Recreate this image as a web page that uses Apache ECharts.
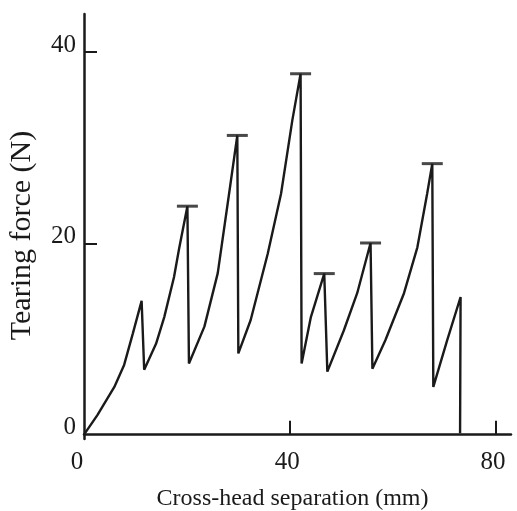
<!DOCTYPE html>
<html>
<head>
<meta charset="utf-8">
<script src="https://cdn.jsdelivr.net/npm/echarts@6/dist/echarts.min.js"></script>
<style>
html,body{margin:0;padding:0;background:#fff;}
#chart{width:517px;height:511px;}
</style>
</head>
<body>
<div id="chart"></div>
<script>
// Curve: cross-head separation (mm) vs tearing force (N)
const separation = [0, 2.6, 5.9, 7.8, 9.5, 11.2,
  11.7, 14.0, 15.6, 17.5, 18.5, 20.1,
  20.4, 23.4, 26.0, 28.2, 29.8,
  30.0, 32.4, 35.7, 38.3, 40.5, 42.1,
  42.3, 44.1, 46.7,
  47.3, 50.5, 53.1, 55.7,
  56.06, 58.6, 62.2, 64.8, 66.7, 67.7,
  67.9, 70.6, 73.2,
  73.1];
const force = [0, 2.05, 5.0, 7.3, 10.6, 14.0,
  6.8, 9.5, 12.3, 16.5, 19.5, 23.9,
  7.45, 11.3, 16.9, 25.2, 31.3,
  8.5, 12.0, 18.9, 25.2, 32.9, 37.75,
  7.45, 12.3, 16.85,
  6.6, 10.9, 14.8, 20.05,
  6.9, 9.9, 14.8, 19.6, 25.2, 28.35,
  5.0, 9.9, 14.4,
  0.15];
// Peaks marked with a horizontal bar
const capSeparation = [20.1, 29.8, 42.1, 46.7, 55.7, 67.7];
const capForce = [23.9, 31.3, 37.75, 16.85, 20.05, 28.35];

const xLabels = [0, 40, 80];
const xTicks = [40, 80];
const yLabels = [0, 20, 40];
const yTicks = [20, 40];

const ink = '#1a1a1a';
const font = 'Liberation Serif';

const chart = echarts.init(document.getElementById('chart'), null, {renderer: 'canvas'});
chart.setOption({
  backgroundColor: '#ffffff',
  animation: false,
  grid: {left: 84, right: 6, top: 14, bottom: 72, containLabel: false, outerBoundsMode: 'none'},
  xAxis: {
    type: 'value', min: 0, max: 83,
    name: 'Cross-head separation (mm)', nameLocation: 'middle', nameGap: 48,
    nameTextStyle: {fontFamily: font, fontSize: 24, color: ink, padding: [0, 10, 0, 0]},
    axisLine: {lineStyle: {color: ink, width: 2.5}},
    axisTick: {show: true, inside: true, length: 14, lineStyle: {color: ink, width: 2}, customValues: xTicks},
    axisLabel: {
      customValues: xLabels, fontFamily: font, fontSize: 25, color: ink, margin: 11,
      formatter: v => v === 0 ? '{z|0}' : '{n|' + v + '}',
      rich: {
        z: {fontFamily: font, fontSize: 25, color: ink, padding: [0, 14, 0, 0]},
        n: {fontFamily: font, fontSize: 25, color: ink, padding: [0, 5, 0, 0]}
      }
    },
    splitLine: {show: false}
  },
  yAxis: {
    type: 'value', min: -0.45, max: 44,
    name: 'Tearing force (N)', nameLocation: 'middle', nameGap: 47, nameRotate: 90,
    nameTextStyle: {fontFamily: font, fontSize: 30, color: ink, padding: [0, 18, 0, 0]},
    axisLine: {show: true, lineStyle: {color: ink, width: 2.5}},
    axisTick: {show: true, inside: true, length: 13, lineStyle: {color: ink, width: 2}, customValues: yTicks},
    axisLabel: {
      customValues: yLabels, color: ink, margin: 8,
      formatter: v => '{a|' + v + '}',
      rich: {
        a: {fontFamily: font, fontSize: 25, color: ink, padding: [0, 0, 14, 0]}
      }
    },
    splitLine: {show: false}
  },
  series: [
    {
      type: 'line',
      data: separation.map((x, i) => [x, force[i]]),
      showSymbol: false, symbol: 'none',
      lineStyle: {color: ink, width: 2.4},
      z: 3
    },
    {
      type: 'scatter',
      data: capSeparation.map((x, i) => [x, capForce[i]]),
      symbol: 'rect', symbolSize: [21, 3],
      itemStyle: {color: ink},
      z: 4
    }
  ]
});
</script>
</body>
</html>
